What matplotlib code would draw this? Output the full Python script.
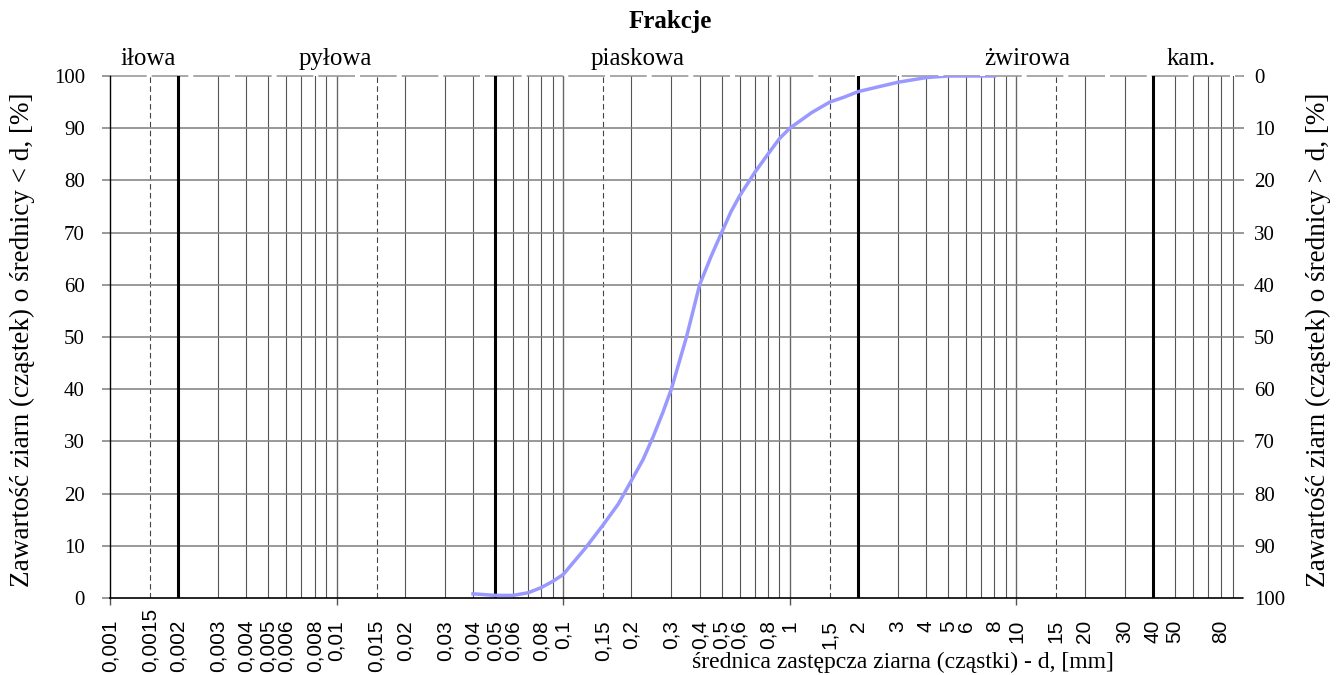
import matplotlib
matplotlib.use("Agg")
import matplotlib.pyplot as plt
from matplotlib import transforms
from matplotlib.ticker import FixedLocator, NullFormatter, NullLocator

# grain size distribution curve
diam = [0.04, 0.05, 0.06, 0.07, 0.08, 0.09, 0.1, 0.125, 0.15, 0.175, 0.2,
        0.225, 0.25, 0.275, 0.3, 0.35, 0.4, 0.45, 0.5, 0.55, 0.6, 0.7, 0.8,
        0.9, 1.0, 1.25, 1.5, 1.75, 2.0, 2.5, 3.0, 4.0, 5.0, 8.0]
passing = [0.8, 0.5, 0.5, 1.0, 2.0, 3.2, 4.5, 9.5, 14.0, 18.0, 22.5,
           26.5, 31.0, 35.5, 40.0, 50.0, 60.0, 65.5, 70.0, 74.0, 77.0, 81.5,
           85.0, 88.0, 90.0, 93.0, 95.0, 96.0, 97.0, 98.0, 98.8, 99.7, 100.0,
           100.0]

tick_vals = [0.001, 0.0015, 0.002, 0.003, 0.004, 0.005, 0.006, 0.008, 0.01,
             0.015, 0.02, 0.03, 0.04, 0.05, 0.06, 0.08, 0.1, 0.15, 0.2, 0.3,
             0.4, 0.5, 0.6, 0.8, 1, 1.5, 2, 3, 4, 5, 6, 8, 10, 15, 20, 30, 40,
             50, 80]
tick_labels = [str(v).replace(".", ",") for v in tick_vals]

# fraction boundaries and names
bounds = [0.002, 0.05, 2, 40]
fractions = ["iłowa", "pyłowa", "piaskowa", "żwirowa", "kam."]
fraction_pos = [0.00147, 0.0099, 0.214, 11.2, 59]

y_ticks = list(range(0, 101, 10))

serif = "Liberation Serif"
sans = "Liberation Sans"
W, H = 1342, 675

fig = plt.figure(figsize=(W / 100, H / 100), dpi=100)
ax = fig.add_axes([110 / W, 77 / H, 1133 / W, 522 / H])
ax.set_xscale("log")
ax.set_xlim(0.001, 100)
ax.set_ylim(0, 100)

# vertical grid: every 1..9 per decade, dashed at 1.5, bold at fraction borders
for e in range(-3, 2):
    base = 10.0 ** e
    for k in range(2, 10):
        ax.axvline(k * base, color="#555", lw=0.8, zorder=1)
    ax.axvline(1.5 * base, color="#444", lw=0.8, ls=(0, (5, 3)), zorder=1)
    if e > -3:
        ax.axvline(base, color="#666", lw=1.0, zorder=1)
for b in bounds:
    ax.axvline(b, color="black", lw=2.2, zorder=2)

# horizontal grid
for y in y_ticks[1:-1]:
    ax.axhline(y, color="#888", lw=1.2, zorder=1)
ax.axhline(100, color="#999", lw=1.2, ls=(0, (22, 3)), zorder=1, clip_on=False)

ax.plot(diam, passing, color="#9999ff", lw=2.5, zorder=3)

for s in ["top", "right"]:
    ax.spines[s].set_visible(False)
ax.spines["left"].set_color("black")
ax.spines["left"].set_linewidth(1.0)
ax.spines["bottom"].set_color("black")
ax.spines["bottom"].set_linewidth(1.2)

# x labels drawn as texts: top aligned, long ones pushed up to stay inside
ax.xaxis.set_major_locator(NullLocator())
ax.xaxis.set_minor_locator(FixedLocator([0.001, 0.01, 0.1, 1, 10]))
ax.xaxis.set_minor_formatter(NullFormatter())
ax.tick_params(axis="x", which="minor", length=5, width=1, color="#555",
               direction="out")
trans = transforms.blended_transform_factory(ax.transData, fig.transFigure)
xlabels = []
for v, lab in zip(tick_vals, tick_labels):
    t = ax.text(v, 1 - 620 / H, lab, rotation=90, ha="center", va="top",
                fontfamily=sans, fontsize=15, transform=trans, clip_on=False)
    xlabels.append(t)
fig.canvas.draw()
renderer = fig.canvas.get_renderer()
for t in xlabels:
    bb = t.get_window_extent(renderer)
    low = 3  # pixels from bottom edge
    if bb.y0 < low:
        x, y = t.get_position()
        t.set_position((x, y + (low - bb.y0) / H))

ax.set_yticks(y_ticks)
ax.set_yticklabels([str(v) for v in y_ticks], fontfamily=serif, fontsize=15)
ax.tick_params(axis="y", length=6, color="#888", width=1.2, pad=12)

ax2 = ax.twinx()
ax2.set_ylim(100, 0)
ax2.set_yticks(y_ticks)
ax2.set_yticklabels([str(v) for v in y_ticks], fontfamily=serif, fontsize=15)
ax2.tick_params(axis="y", length=1, color="#888", width=1.2, pad=7)
for s in ["top", "right", "left", "bottom"]:
    ax2.spines[s].set_visible(False)

fig.text(22 / W, 1 - 340 / H,
         "Zawartość ziarn (cząstek) o średnicy < d, [%]",
         rotation=90, ha="center", va="center", fontfamily=serif, fontsize=19.5)
fig.text(1318 / W, 1 - 340 / H,
         "Zawartość ziarn (cząstek) o średnicy > d, [%]",
         rotation=90, ha="center", va="center", fontfamily=serif, fontsize=19.5)

for name, xp in zip(fractions, fraction_pos):
    ax.text(xp, 102.1, name, ha="center", va="baseline", fontfamily=serif,
            fontsize=18)

fig.text(670 / W, 1 - 28 / H, "Frakcje", ha="center", va="baseline",
         fontfamily=serif, fontsize=18, fontweight="bold")
fig.text(903 / W, 1 - 668 / H,
         "średnica zastępcza ziarna (cząstki) - d, [mm]",
         ha="center", va="baseline", fontfamily=serif, fontsize=17)

fig.savefig("out.png", dpi=100)
